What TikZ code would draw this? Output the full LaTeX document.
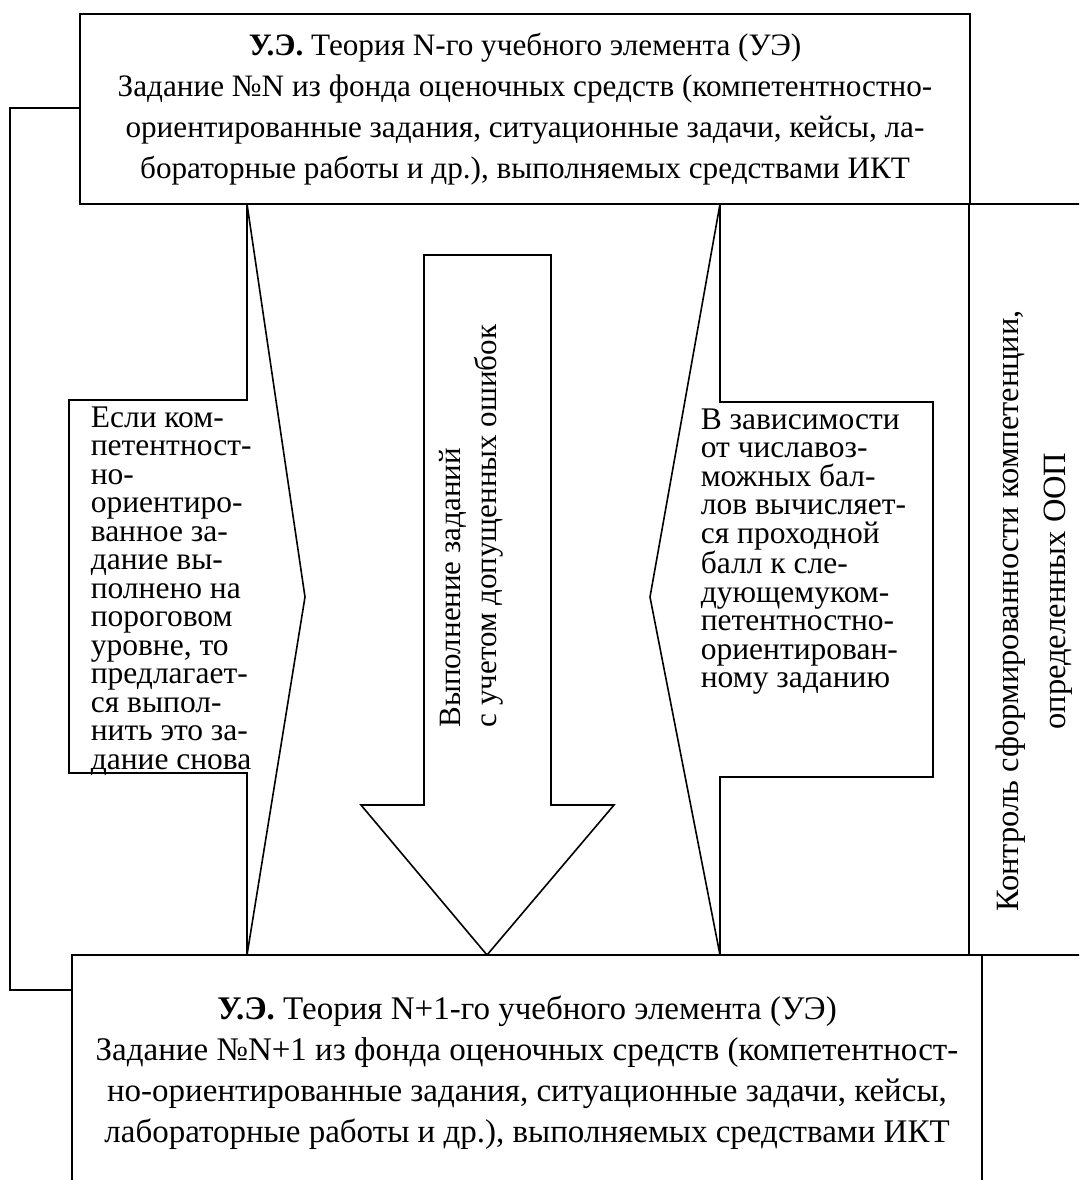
\documentclass[tikz,border=0pt]{standalone}
\usepackage{fontspec}
\setmainfont{Liberation Serif}
\usetikzlibrary{positioning}

\begin{document}
\begin{tikzpicture}[x=1pt, y=-1pt, line width=1.6pt,
    every node/.style={inner sep=0pt},
    uebox/.style={draw, align=center, minimum width=#1},
    note/.style={anchor=north west, align=left,
      font=\fontsize{31.5}{28.5}\selectfont},
    vtext/.style={rotate=90, font=\fontsize{31}{36}\selectfont}]
  \useasboundingbox (0,0) rectangle (1079,1180);
  \clip (0,0) rectangle (1079,1180);
  % blocks of the two learning elements
  \node[uebox=890, minimum height=190, font=\fontsize{31.2}{41}\selectfont] (ue1) at (525,109)
    {\textbf{У.Э.} Теория N-го учебного элемента (УЭ)\\
     Задание №N из фонда оценочных средств (компетентностно-\\
     ориентированные задания, ситуационные задачи, кейсы, ла-\\
     бораторные работы и др.), выполняемых средствами ИКТ};
  \node[uebox=910, minimum height=236, font=\fontsize{33}{41}\selectfont] (ue2) at (527,1073)
    {\textbf{У.Э.} Теория N+1-го учебного элемента (УЭ)\\
     Задание №N+1 из фонда оценочных средств (компетентност-\\
     но-ориентированные задания, ситуационные задачи, кейсы,\\
     лабораторные работы и др.), выполняемых средствами ИКТ};
  % column on the right
  \node[draw, minimum width=160, minimum height=751] (ctrl) at (1049,579.5) {};
  \node[vtext, align=center, font=\fontsize{32.5}{47}\selectfont] (ctrltxt) at (1034,611)
    {Контроль сформированности компетенции,\\\hspace*{40pt}определенных ООП};
  % return line
  \coordinate (back) at (10,990);
  \draw (ue1.west |- 0,108) -- (10,108) -- (back) -- (ue2.west |- back);
  % big arrow
  \draw (424,255) -- (551,255) -- (551,805) -- (614,805) -- (487,955)
    -- (361,805) -- (424,805) -- cycle;
  \node[vtext, anchor=west, align=left] (task) at (471,728)
    {Выполнение заданий\\с учетом допущенных ошибок};
  % callouts
  \draw (69,400) -- (247,400) -- (247,204) -- (305,597) -- (247,955)
    -- (247,773) -- (69,773) -- cycle;
  \node[note] (left) at (90,406)
    {Если ком-\\петентност-\\но-\\ориентиро-\\ванное за-\\дание вы-\\полнено на\\
     пороговом\\уровне, то\\предлагает-\\ся выпол-\\нить это за-\\дание снова};
  \draw (720,402) -- (933,402) -- (933,777) -- (720,777) -- (720,955)
    -- (650,597) -- (720,204) -- cycle;
  \node[note] (right) at (700,408)
    {В зависимости\\от числавоз-\\можных бал-\\лов вычисляет-\\ся проходной\\
     балл к сле-\\дующемуком-\\петентностно-\\ориентирован-\\ному заданию};
\end{tikzpicture}
\end{document}
